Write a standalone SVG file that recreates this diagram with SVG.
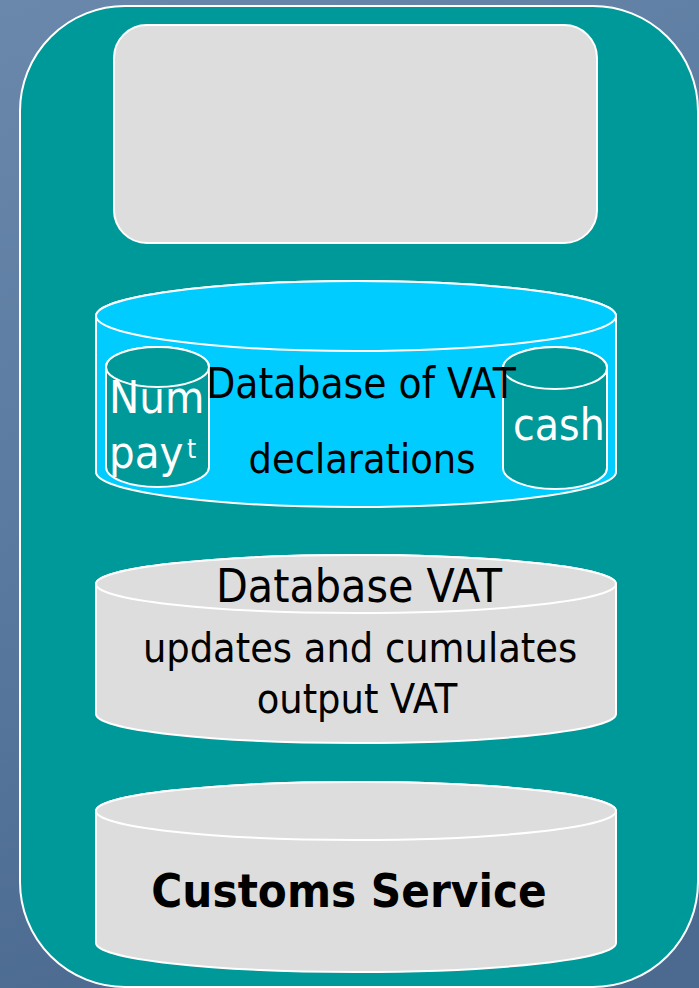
<svg xmlns="http://www.w3.org/2000/svg" width="699" height="988" viewBox="0 0 699 988">
<defs>
<linearGradient id="bg" x1="0" y1="0" x2="0.3" y2="1">
<stop offset="0" stop-color="#6a88ab"/>
<stop offset="0.5" stop-color="#5a7aa0"/>
<stop offset="1" stop-color="#4c6a90"/>
</linearGradient>
</defs>
<style>
.ln{stroke:#ffffff;stroke-width:2}
.t{font-family:"DejaVu Sans Condensed","Liberation Sans",sans-serif;fill:#000000}
.w{fill:#ffffff}
.gray{fill:#dddddd}
.blue{fill:#00ccff}
.teal{fill:#009999}
</style>
<rect x="0" y="0" width="699" height="988" fill="url(#bg)"/>
<g id="frame">
<rect x="20" y="6" width="678" height="981" rx="105" ry="105" class="teal ln"/>
</g>
<g id="top-box">
<rect x="114" y="25" width="483" height="218" rx="33" ry="33" class="gray ln"/>
</g>
<g id="vat-declarations">
<path d="M96,316 A260,35 0 0 1 616,316 L616,472 A260,35 0 0 1 96,472 Z" class="blue ln"/>
<ellipse cx="356" cy="316" rx="260" ry="35" class="blue ln"/>
<g id="num-payment">
<path d="M106,367 A51.5,20 0 0 1 209,367 L209,467 A51.5,20 0 0 1 106,467 Z" class="teal ln"/>
<ellipse cx="157.5" cy="367" rx="51.5" ry="20" class="teal ln"/>
<text x="109" y="413" font-size="45" class="t w">Num</text>
<text x="109" y="468" font-size="45" class="t w">pay<tspan x="187" y="458" font-size="26">t</tspan></text>
</g>
<g id="cash">
<path d="M503,368 A52,21 0 0 1 607,368 L607,468 A52,21 0 0 1 503,468 Z" class="teal ln"/>
<ellipse cx="555" cy="368" rx="52" ry="21" class="teal ln"/>
<text x="513" y="440" font-size="44" class="t w">cash</text>
</g>
<text x="361" y="398" font-size="42" text-anchor="middle" class="t">Database of VAT</text>
<text x="362" y="473" font-size="41" text-anchor="middle" class="t">declarations</text>
</g>
<g id="database-vat">
<path d="M96,584 A260,29 0 0 1 616,584 L616,714 A260,29 0 0 1 96,714 Z" class="gray ln"/>
<ellipse cx="356" cy="584" rx="260" ry="29" class="gray ln"/>
<text x="359" y="602" font-size="46" text-anchor="middle" class="t">Database VAT</text>
<text x="360" y="662" font-size="41" text-anchor="middle" class="t">updates and cumulates</text>
<text x="357" y="713" font-size="41" text-anchor="middle" class="t">output VAT</text>
</g>
<g id="customs-service">
<path d="M96,811 A260,29 0 0 1 616,811 L616,943 A260,29 0 0 1 96,943 Z" class="gray ln"/>
<ellipse cx="356" cy="811" rx="260" ry="29" class="gray ln"/>
<text x="349" y="907" font-size="47" font-weight="bold" text-anchor="middle" class="t">Customs Service</text>
</g>
</svg>
